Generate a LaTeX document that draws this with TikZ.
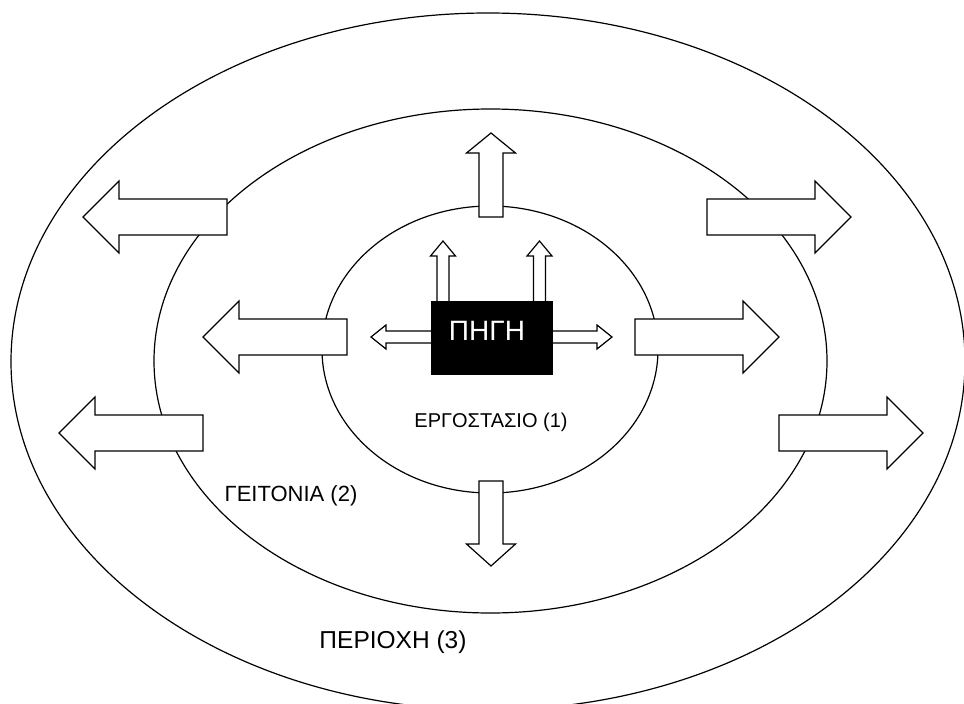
\documentclass[tikz,border=0pt]{standalone}
\usepackage{fontspec}
\setmainfont{Liberation Sans}
\usetikzlibrary{shapes.geometric}
\tikzset{
  ring/.style={ellipse, draw=black, line width=1.2pt, inner sep=0pt},
  blockarrow/.style={draw=black, fill=white, line width=1.2pt, line join=miter},
  lbl/.style={inner sep=0pt, anchor=center, text=black}
}
% horizontal block arrow: tail x, head base x, tip x, centre y, half shaft, half head
\newcommand\hbarrow[6]{%
  \draw[blockarrow] (#1,#4-#5) -- (#2,#4-#5) -- (#2,#4-#6) -- (#3,#4)
    -- (#2,#4+#6) -- (#2,#4+#5) -- (#1,#4+#5) -- cycle;}
% vertical block arrow: tail y, head base y, tip y, centre x, half shaft, half head
\newcommand\vbarrow[6]{%
  \draw[blockarrow] (#4-#5,#1) -- (#4-#5,#2) -- (#4-#6,#2) -- (#4,#3)
    -- (#4+#6,#2) -- (#4+#5,#2) -- (#4+#5,#1) -- cycle;}
\begin{document}
\begin{tikzpicture}[x=1pt,y=-1pt]
\useasboundingbox (0,0) rectangle (964,704);
\clip (0,0) rectangle (964,704);
\fill[white] (0,0) rectangle (964,704);
% rings
\node[ring, minimum width=954pt, minimum height=697pt] (outer) at (488,361.5) {};
\node[ring, minimum width=673pt, minimum height=504pt] (middle) at (490.5,361) {};
\node[ring, minimum width=336pt, minimum height=287pt] (inner) at (490,349.5) {};
% big arrows
\hbarrow{227}{119}{83}{217}{18}{36}
\hbarrow{347}{239}{203}{337}{18}{36}
\hbarrow{203}{95}{59}{433}{18}{36}
\hbarrow{707}{815}{851}{217}{18}{36}
\hbarrow{635}{743}{779}{337}{18}{36}
\hbarrow{779}{887}{923}{433}{18}{36}
\vbarrow{217}{153}{133}{491}{12}{24.5}
\vbarrow{481}{544}{566}{491}{12}{24.5}
% small arrows from the source
\hbarrow{436}{386}{371}{337}{6}{12}
\hbarrow{547}{597}{612}{337}{6}{12}
\vbarrow{306}{256}{241}{443}{6}{12.5}
\vbarrow{306}{256}{241}{539.5}{6}{12.5}
% source box
\node[fill=black, draw=black, minimum width=121pt, minimum height=73pt, inner sep=0pt] (src) at (491.5,337.5) {};
\node[lbl, text=white, font=\fontsize{28}{31}\selectfont] (srclbl) at (487,331) {ΠΗΓΗ};
% labels
\node[lbl, font=\fontsize{20}{22}\selectfont] (l1) at (491,422) {ΕΡΓΟΣΤΑΣΙΟ (1)};
\node[lbl, font=\fontsize{22}{24}\selectfont] (l2) at (291,496) {ΓΕΙΤΟΝΙΑ (2)};
\node[lbl, font=\fontsize{24.5}{27}\selectfont] (l3) at (393,642) {ΠΕΡΙΟΧΗ (3)};
\end{tikzpicture}
\end{document}
